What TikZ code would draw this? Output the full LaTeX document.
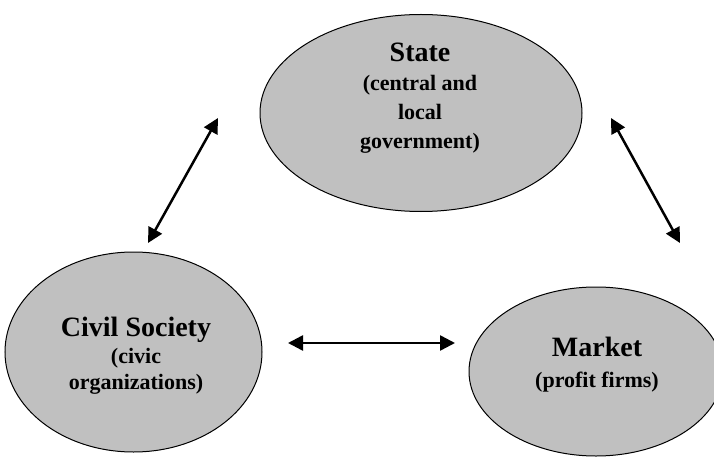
\documentclass[tikz,border=0pt]{standalone}
\usepackage{fontspec}
\setmainfont{Liberation Serif}
\usetikzlibrary{shapes.geometric,arrows.meta}
\definecolor{silver}{RGB}{192,192,192}
\newcommand{\ttlsize}{\fontsize{28}{30}\selectfont}
\begin{document}
\begin{tikzpicture}[x=1pt,y=-1pt,
 blob/.style={ellipse,draw=black,line width=1pt,fill=silver,inner sep=0pt},
 lbl/.style={align=center,font=\fontsize{22}{29}\selectfont\bfseries,inner sep=0pt},
 link/.style={line width=2.5pt,{Triangle[length=15pt,width=15pt]}-{Triangle[length=15pt,width=15pt]}}]
\useasboundingbox (0,0) rectangle (714,457);
\fill[white] (0,0) rectangle (714,457);
\begin{scope}
\clip (0,0) rectangle (714,457);
\node[blob,minimum width=322pt,minimum height=197pt] (state) at (421,113) {};
\node[blob,minimum width=257pt,minimum height=200pt] (civil) at (133.5,352) {};
\node[blob,minimum width=254pt,minimum height=169pt] (market) at (596,371.5) {};
\end{scope}
\node[lbl] (statetxt) at (420,98) {{\ttlsize State}\\[0pt](central and\\ local\\ government)};
\node[lbl] (civiltxt) at (136,355.5) {{\ttlsize Civil Society}\\[-2pt](civic\\[-3pt] organizations)};
\node[lbl] (markettxt) at (597,365) {{\ttlsize Market}\\[2pt](profit firms)};
\coordinate (sc1) at (218,118);
\coordinate (sc2) at (148,243);
\coordinate (sm1) at (611,118);
\coordinate (sm2) at (680,243);
\coordinate (cm1) at (288,343);
\coordinate (cm2) at (455,343);
\draw[link] (sc1) -- (sc2);
\draw[link] (sm1) -- (sm2);
\draw[link] (cm1) -- (cm2);
\end{tikzpicture}
\end{document}
